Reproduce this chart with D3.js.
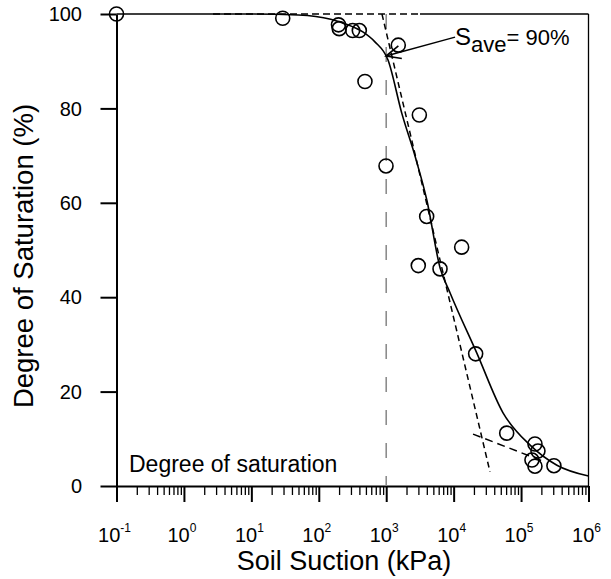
<!DOCTYPE html>
<html>
<head>
<meta charset="utf-8">
<script src="https://cdn.jsdelivr.net/npm/d3@7"></script>
<style>
body { margin: 0; background: #fff; }
text { font-family: "Liberation Sans", Arial, Helvetica, sans-serif; fill: #000; }
</style>
</head>
<body>
<svg id="chart" width="611" height="579"></svg>
<script>
// measured points (suction kPa, saturation %)
const suction = [0.1, 29.2, 196, 201, 318, 399, 484, 993, 1510, 3100, 3980, 2990, 6280, 13150, 21200, 61200, 160700, 178000, 145000, 160700, 307000]
const saturation = [100, 99.1, 97.7, 96.9, 96.5, 96.5, 85.7, 67.8, 93.4, 78.6, 57.1, 46.7, 46.0, 50.6, 28.0, 11.2, 8.9, 7.4, 5.5, 4.2, 4.3]

// fitted curve
const fitSuction = [0.1, 10, 50, 150, 250, 450, 680, 1060, 1700, 2700, 4000, 6300, 8800, 22000, 54000, 135000, 340000, 1000000]
const fitSaturation = [100, 100, 99.8, 98.9, 97.9, 96.2, 94.1, 90.3, 79.0, 69.7, 60.6, 46.2, 41.0, 28.2, 15.5, 8.7, 4.4, 2.1]

// construction lines
const tangentSuction = [865, 34600]
const tangentSat = [100, 3]
const residualSuction = [19400, 226000]
const residualSat = [11, 5.1]
const satLineSuction = [2.7, 3170]
const satLineSat = [100, 100]
const aevSuction = 1000

// annotation
const arrowTip = [993, 91.1]
const arrowTail = [10500, 95.1]

const yTicks = [0, 20, 40, 60, 80, 100]
const xExponents = [-1, 0, 1, 2, 3, 4, 5, 6]

const width = 611
const height = 579
const margin = { top: 14, right: 22.5, bottom: 93, left: 116.5 }

const svg = d3.select('#chart')

const x = d3.scaleLog().domain([0.1, 1e6]).range([margin.left, width - margin.right])
const y = d3.scaleLinear().domain([0, 100]).range([height - margin.bottom, margin.top])

// minor ticks 2..9 in each decade
const minorTicks = []
for (let e = -1; e < 6; e++) {
    for (let k = 2; k <= 9; k++) minorTicks.push(k * Math.pow(10, e))
}

// x axis
svg.append('g')
    .attr('transform', `translate(0,${y(0)})`)
    .call(d3.axisBottom(x).tickValues(minorTicks).tickSize(9).tickFormat('').tickSizeOuter(0))
    .call(g => g.select('.domain').remove())
    .selectAll('line').attr('stroke-width', 1.3)

svg.append('g')
    .attr('transform', `translate(0,${y(0)})`)
    .call(d3.axisBottom(x).tickValues(xExponents.map(e => Math.pow(10, e))).tickSize(16).tickFormat('').tickSizeOuter(0))
    .call(g => g.select('.domain').attr('stroke-width', 2))
    .selectAll('line').attr('stroke-width', 2)

// y axis
svg.append('g')
    .attr('transform', `translate(${x(0.1)},0)`)
    .call(d3.axisLeft(y).tickValues(yTicks).tickSize(16).tickFormat('').tickSizeOuter(0))
    .call(g => g.select('.domain').attr('stroke-width', 2))
    .selectAll('line').attr('stroke-width', 2)

// frame on the right and top
svg.append('line')
    .attr('x1', x(1e6)).attr('x2', x(1e6))
    .attr('y1', y(0)).attr('y2', y(100))
    .attr('stroke', '#000').attr('stroke-width', 1.3)
svg.append('line')
    .attr('x1', x(satLineSuction[1])).attr('x2', x(1e6))
    .attr('y1', y(100)).attr('y2', y(100))
    .attr('stroke', '#000').attr('stroke-width', 1.3)

// y tick labels
svg.append('g').selectAll('text')
    .data(yTicks).enter().append('text')
    .attr('x', 82)
    .attr('y', d => y(d))
    .attr('dy', '0.36em')
    .attr('text-anchor', 'end')
    .style('font-size', '20px')
    .text(d => d)

// x tick labels 10^n
const xl = svg.append('g').selectAll('text')
    .data(xExponents).enter().append('text')
    .attr('x', d => x(Math.pow(10, d)) - 2)
    .attr('y', 542)
    .attr('text-anchor', 'middle')
    .style('font-size', '20px')
xl.append('tspan').text('10')
xl.append('tspan').attr('dy', -10).style('font-size', '12px').text(d => d)

// axis titles
svg.append('text')
    .attr('x', 344).attr('y', 570)
    .attr('text-anchor', 'middle')
    .style('font-size', '27px')
    .text('Soil Suction (kPa)')

svg.append('text')
    .attr('transform', `translate(33,256) rotate(-90)`)
    .attr('text-anchor', 'middle')
    .style('font-size', '27.5px')
    .text('Degree of Saturation (%)')

// air entry vertical line
svg.append('line')
    .attr('x1', x(aevSuction)).attr('x2', x(aevSuction))
    .attr('y1', y(100)).attr('y2', y(0))
    .attr('stroke', '#8c8c8c').attr('stroke-width', 1.6)
    .attr('stroke-dasharray', '15,18')

const seg = (xs, ys) => xs.map((v, i) => [x(v), y(ys[i])])

// dashed construction lines
const dashed = svg.append('g').attr('fill', 'none').attr('stroke', '#000').attr('stroke-width', 1.5)
dashed.append('path').attr('d', d3.line()(seg(satLineSuction, satLineSat))).attr('stroke-dasharray', '7,4')
dashed.append('path').attr('d', d3.line()(seg(tangentSuction, tangentSat))).attr('stroke-dasharray', '6,4')
dashed.append('path').attr('d', d3.line()(seg(residualSuction, residualSat))).attr('stroke-dasharray', '8,5')

// fitted curve
svg.append('path')
    .attr('d', d3.line().curve(d3.curveMonotoneX)(seg(fitSuction, fitSaturation)))
    .attr('fill', 'none').attr('stroke', '#000').attr('stroke-width', 1.6)

// data points
svg.append('g').selectAll('circle')
    .data(suction).enter().append('circle')
    .attr('cx', d => x(d))
    .attr('cy', (d, i) => y(saturation[i]))
    .attr('r', 7)
    .attr('fill', 'none')
    .attr('stroke', '#000')
    .attr('stroke-width', 1.6)

// arrow to S_ave
const tip = [x(arrowTip[0]), y(arrowTip[1])]
const tail = [x(arrowTail[0]), y(arrowTail[1])]
svg.append('line')
    .attr('x1', tail[0]).attr('y1', tail[1]).attr('x2', tip[0]).attr('y2', tip[1])
    .attr('stroke', '#000').attr('stroke-width', 1.5)
const ang = Math.atan2(tail[1] - tip[1], tail[0] - tip[0])
const wing = [ang + 0.42, ang - 0.42].map(a => [tip[0] + 16 * Math.cos(a), tip[1] + 16 * Math.sin(a)])
svg.append('path')
    .attr('d', d3.line()([wing[0], tip, wing[1]]))
    .attr('fill', 'none').attr('stroke', '#000').attr('stroke-width', 1.6)

const lab = svg.append('text')
    .attr('x', tail[0]).attr('y', 45)
    .style('font-size', '24px')
lab.append('tspan').text('S')
lab.append('tspan').attr('dy', 7).style('font-size', '22px').text('ave')
lab.append('tspan').attr('dy', -7).style('font-size', '22px').text('= 90%')

// corner label
svg.append('text')
    .attr('x', 129).attr('y', 472)
    .style('font-size', '23px')
    .text('Degree of saturation')
</script>
</body>
</html>
